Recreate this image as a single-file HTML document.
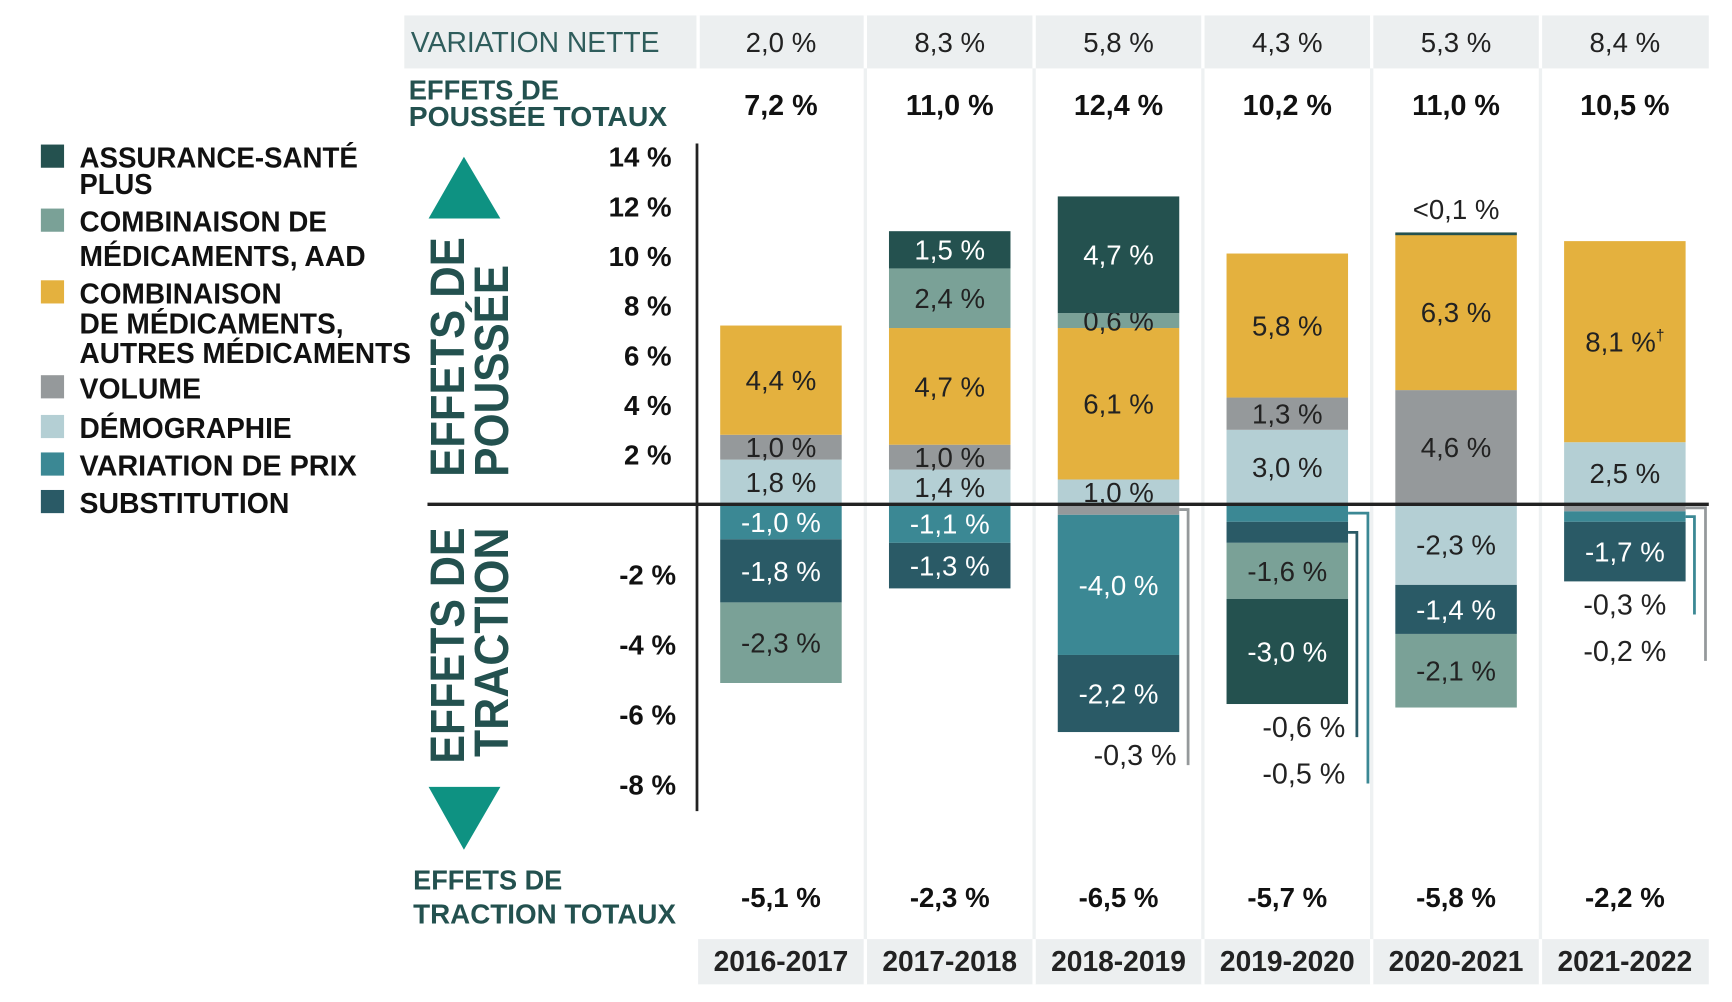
<!DOCTYPE html>
<html><head><meta charset="utf-8"><style>
html,body{margin:0;padding:0;background:#fff;}
svg{display:block;}
.nar{font-family:"Liberation Sans Narrow","Liberation Sans",sans-serif;}
.bold{font-family:"Liberation Sans Narrow","Liberation Sans",sans-serif;font-weight:bold;}
</style></head><body>
<svg id="chart" width="1732" height="1002" viewBox="0 0 1568 908" preserveAspectRatio="none" xmlns="http://www.w3.org/2000/svg">
<g id="static">
  <rect x="366" y="14" width="1181" height="48" fill="#eceff0"/>
  <rect x="632" y="851" width="915" height="41" fill="#eceff0"/>
  <text class="nar" x="372" y="47" font-size="26" fill="#2f5d5c" textLength="225" lengthAdjust="spacingAndGlyphs">VARIATION NETTE</text>
  <text class="bold" fill="#23514f" font-size="25"><tspan x="370" y="90" textLength="136" lengthAdjust="spacingAndGlyphs">EFFETS DE</tspan><tspan x="370" y="114" textLength="234" lengthAdjust="spacingAndGlyphs">POUSSÉE TOTAUX</tspan></text>
  <text class="bold" fill="#23514f" font-size="25"><tspan x="374" y="806" textLength="135" lengthAdjust="spacingAndGlyphs">EFFETS DE</tspan><tspan x="374" y="837" textLength="238" lengthAdjust="spacingAndGlyphs">TRACTION TOTAUX</tspan></text>
  <polygon points="420,142 453,198 388,198" fill="#0e9282"/>
  <polygon points="388,713 453,713 420,770" fill="#0e9282"/>
  <text font-family="Liberation Sans" font-weight="bold" fill="#23514f" font-size="44" transform="translate(420 432) rotate(-90)" textLength="217" lengthAdjust="spacingAndGlyphs">EFFETS DE</text>
  <text font-family="Liberation Sans" font-weight="bold" fill="#23514f" font-size="44" transform="translate(460 432) rotate(-90)" textLength="192" lengthAdjust="spacingAndGlyphs">POUSSÉE</text>
  <text font-family="Liberation Sans" font-weight="bold" fill="#23514f" font-size="44" transform="translate(420 692) rotate(-90)" textLength="214" lengthAdjust="spacingAndGlyphs">EFFETS DE</text>
  <text font-family="Liberation Sans" font-weight="bold" fill="#23514f" font-size="44" transform="translate(460 686) rotate(-90)" textLength="208" lengthAdjust="spacingAndGlyphs">TRACTION</text>
</g>
<g id="legend"></g>
<g id="plot"></g>
</svg>
<script>
const years = ["2016-2017","2017-2018","2018-2019","2019-2020","2020-2021","2021-2022"];
const netChange = ["2,0 %","8,3 %","5,8 %","4,3 %","5,3 %","8,4 %"];
const pushTotals = ["7,2 %","11,0 %","12,4 %","10,2 %","11,0 %","10,5 %"];
const pullTotals = ["-5,1 %","-2,3 %","-6,5 %","-5,7 %","-5,8 %","-2,2 %"];
const assurance = [0, 1.5, 4.7, -3.0, 0.05, 0];
const aad = [-2.3, 2.4, 0.6, -1.6, -2.1, 0];
const otherDrugs = [4.4, 4.7, 6.1, 5.8, 6.3, 8.1];
const volume = [1.0, 1.0, -0.3, 1.3, 4.6, -0.2];
const demography = [1.8, 1.4, 1.0, 3.0, -2.3, 2.5];
const priceChange = [-1.0, -1.1, -4.0, -0.5, 0, -0.3];
const substitution = [-1.8, -1.3, -2.2, -0.6, -1.4, -1.7];
const posTicks = [2,4,6,8,10,12,14];
const negTicks = [-2,-4,-6,-8];

const NS="http://www.w3.org/2000/svg";
const ZERO=457, POS=22.5, NEG=31.75, C0=707, CS=152.8, BW=110;
const yS = v => v>=0 ? ZERO - v*POS : ZERO - v*NEG;
const xC = i => C0 + i*CS;
function mk(tag, attrs, parent, txt){const e=document.createElementNS(NS,tag);for(const k in attrs)e.setAttribute(k,attrs[k]);if(txt!=null)e.textContent=txt;parent.appendChild(e);return e;}
const fmt = v => (Math.abs(v)<0.1 ? "<0,1" : v.toFixed(1).replace(".",",")) + " %";
const plot=document.getElementById("plot"), legend=document.getElementById("legend");

const series=[
 {key:"assurance",vals:assurance,col:"#24514f",txt:"#fff",lbl:["ASSURANCE-SANTÉ","PLUS"],ly:[142,166],lw:[252,66]},
 {key:"aad",vals:aad,col:"#7aa197",txt:"#222",lbl:["COMBINAISON DE","MÉDICAMENTS, AAD"],ly:[200,231],lw:[224,259]},
 {key:"other",vals:otherDrugs,col:"#e4b13e",txt:"#222",lbl:["COMBINAISON","DE MÉDICAMENTS,","AUTRES MÉDICAMENTS"],ly:[265,292,319],lw:[183,239,300]},
 {key:"volume",vals:volume,col:"#95999b",txt:"#222",lbl:["VOLUME"],ly:[351],lw:[110]},
 {key:"demography",vals:demography,col:"#b4cfd4",txt:"#222",lbl:["DÉMOGRAPHIE"],ly:[387],lw:[192]},
 {key:"price",vals:priceChange,col:"#3b8894",txt:"#fff",lbl:["VARIATION DE PRIX"],ly:[421],lw:[251]},
 {key:"substitution",vals:substitution,col:"#2a5a66",txt:"#fff",lbl:["SUBSTITUTION"],ly:[455],lw:[190]}
];
const byKey={};series.forEach(s=>byKey[s.key]=s);
const posOrder=["demography","volume","other","aad","assurance"];
const negOrder=["volume","demography","price","substitution","aad","assurance"];

series.forEach(s=>{
  const sq=mk("rect",{x:37,y:s.ly[0]-11,width:21,height:21,fill:s.col},legend);
  
  
  const t=mk("text",{"class":"bold","font-size":26,fill:"#111"},legend);
  
  
  s.lbl.forEach((l,j)=>{mk("tspan",{x:72,y:s.ly[j]+10,textLength:s.lw[j],lengthAdjust:"spacingAndGlyphs"},t,l);});
});

for(let i=0;i<years.length-1;i++){
  const x=(xC(i)+xC(i+1))/2;
  const l=mk("line",{x1:x,y1:14,x2:x,y2:892,stroke:"#fff","stroke-width":3},plot);
  
  
  const l2=mk("line",{x1:x,y1:62,x2:x,y2:851,stroke:"#eef1f2","stroke-width":3},plot);
  
  
}
{const l=mk("line",{x1:632,y1:14,x2:632,y2:62,stroke:"#fff","stroke-width":3},plot);
 
 }

const ax=mk("line",{x1:631,y1:130,x2:631,y2:735,stroke:"#222","stroke-width":2.5},plot);


posTicks.concat(negTicks).forEach(v=>{
  const y = yS(v);
  const t=mk("text",{"class":"bold","font-size":25,fill:"#111","text-anchor":"end",x:v>0?608:612,y:y+9},plot,v+" %");
  
  
});

years.forEach((yr,i)=>{
  const x=xC(i);
  let t=mk("text",{"class":"nar","font-size":25,fill:"#222","text-anchor":"middle",x:x,y:47},plot,netChange[i]);
  
  
  t=mk("text",{"class":"bold","font-size":26,fill:"#111","text-anchor":"middle",x:x,y:104},plot,pushTotals[i]);
  
  
  t=mk("text",{"class":"bold","font-size":25,fill:"#111","text-anchor":"middle",x:x,y:822},plot,pullTotals[i]);
  
  
  t=mk("text",{"class":"bold","font-size":26,fill:"#222","text-anchor":"middle",x:x,y:880,textLength:122,lengthAdjust:"spacingAndGlyphs"},plot,yr);
  
  
});

years.forEach((yr,i)=>{
  const x0=xC(i)-BW/2, xr=xC(i)+BW/2;
  let cum=0;
  posOrder.forEach(k=>{
    const s=byKey[k], v=s.vals[i]; if(!(v>0))return;
    const yb=yS(cum), yt=yS(cum+v); cum+=v;
    const r=mk("rect",{x:x0,y:yt,width:BW,height:Math.max(yb-yt,2.5),fill:s.col},plot);
    
    
    if(v<0.1){
      const t=mk("text",{"class":"nar","font-size":25,fill:"#222","text-anchor":"middle",x:xC(i),y:yt-12},plot,fmt(v));
      
      
    } else {
      const t=mk("text",{"class":"nar","font-size":25,fill:s.txt,"text-anchor":"middle",x:xC(i),y:(yt+yb)/2+9},plot,fmt(v));
      
      
      if(k==="other" && i===5){mk("tspan",{"font-size":14,dy:-10},t,"†");}
    }
  });
  cum=0;
  const ext=[];
  negOrder.forEach(k=>{
    const s=byKey[k], v=s.vals[i]; if(!(v<0))return;
    const yt=yS(cum), yb=yS(cum+v); cum+=v;
    const r=mk("rect",{x:x0,y:yt,width:BW,height:yb-yt,fill:s.col},plot);
    
    
    if(v>-0.7){ext.push({s,v,ym:(yt+yb)/2});}
    else{
      const t=mk("text",{"class":"nar","font-size":25,fill:s.txt,"text-anchor":"middle",x:xC(i),y:(yt+yb)/2+9},plot,fmt(v));
      
      
    }
  });
  const bottom=yS(cum);
  ext.reverse().forEach((e,j)=>{
    const ly=bottom+30+j*42;
    const bx=xr+8+j*10;
    const p=mk("polyline",{points:`${xr},${e.ym} ${bx},${e.ym} ${bx},${ly}`,fill:"none",stroke:e.s.col,"stroke-width":2.5},plot);
    
    
    const t=mk("text",{"class":"nar","font-size":26,fill:"#222","text-anchor":"middle",x:xC(i)+(i===5?0:15),y:ly},plot,fmt(e.v));
    
    
  });
});
const z=mk("line",{x1:387,y1:ZERO,x2:1547,y2:ZERO,stroke:"#222","stroke-width":3},plot);


</script>
</body></html>
